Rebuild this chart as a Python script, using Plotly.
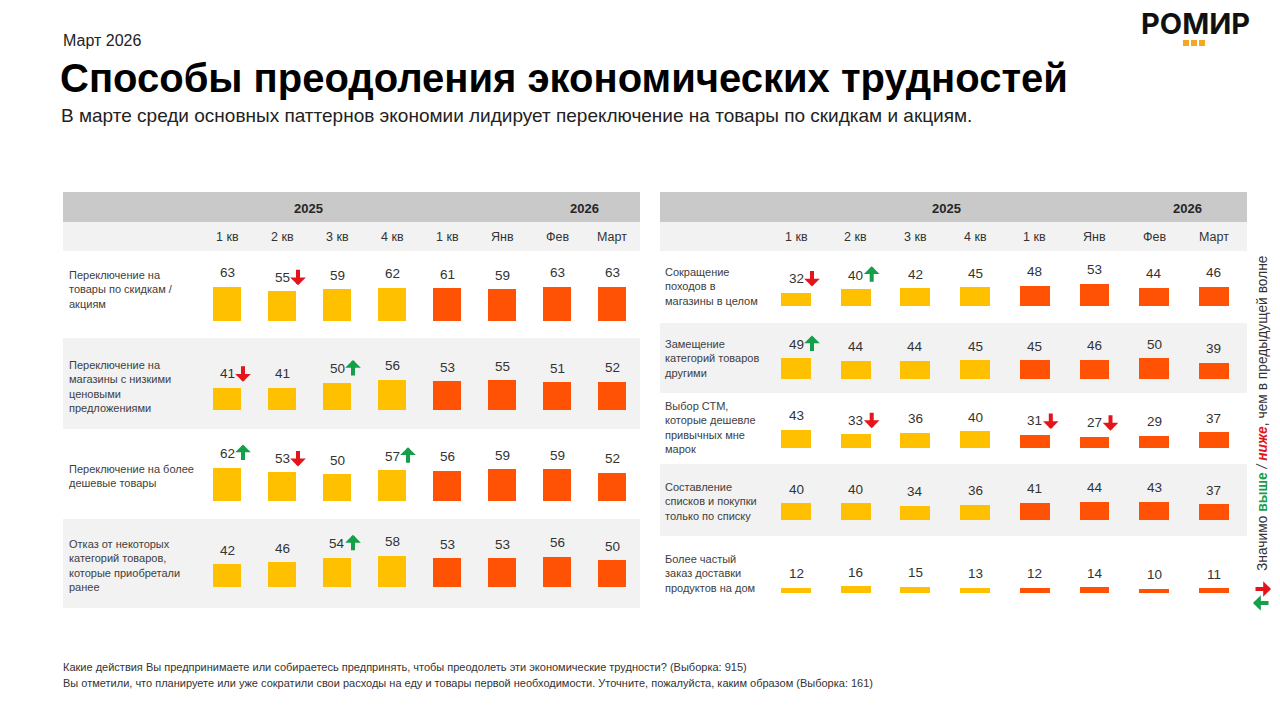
import plotly.graph_objects as go

W, H = 1280, 709

# ---------------- data ----------------
periods = ["1 кв", "2 кв", "3 кв", "4 кв", "1 кв", "Янв", "Фев", "Март"]
year_labels = ["2025", "2026"]

left_labels = [
    "Переключение на<br>товары по скидкам /<br>акциям",
    "Переключение на<br>магазины с низкими<br>ценовыми<br>предложениями",
    "Переключение на более<br>дешевые товары",
    "Отказ от некоторых<br>категорий товаров,<br>которые приобретали<br>ранее",
]
left_values = [
    [63, 55, 59, 62, 61, 59, 63, 63],
    [41, 41, 50, 56, 53, 55, 51, 52],
    [62, 53, 50, 57, 56, 59, 59, 52],
    [42, 46, 54, 58, 53, 53, 56, 50],
]
# 1 = significantly higher, -1 = significantly lower
left_flags = [
    [0, -1, 0, 0, 0, 0, 0, 0],
    [-1, 0, 1, 0, 0, 0, 0, 0],
    [1, -1, 0, 1, 0, 0, 0, 0],
    [0, 0, 1, 0, 0, 0, 0, 0],
]

right_labels = [
    "Сокращение<br>походов в<br>магазины в целом",
    "Замещение<br>категорий товаров<br>другими",
    "Выбор СТМ,<br>которые дешевле<br>привычных мне<br>марок",
    "Составление<br>списков и покупки<br>только по списку",
    "Более частый<br>заказ доставки<br>продуктов на дом",
]
right_values = [
    [32, 40, 42, 45, 48, 53, 44, 46],
    [49, 44, 44, 45, 45, 46, 50, 39],
    [43, 33, 36, 40, 31, 27, 29, 37],
    [40, 40, 34, 36, 41, 44, 43, 37],
    [12, 16, 15, 13, 12, 14, 10, 11],
]
right_flags = [
    [-1, 1, 0, 0, 0, 0, 0, 0],
    [1, 0, 0, 0, 0, 0, 0, 0],
    [0, -1, 0, 0, -1, -1, 0, 0],
    [0, 0, 0, 0, 0, 0, 0, 0],
    [0, 0, 0, 0, 0, 0, 0, 0],
]

footer_lines = [
    "Какие действия Вы предпринимаете или собираетесь предпринять, чтобы преодолеть эти экономические трудности? (Выборка: 915)",
    "Вы отметили, что планируете или уже сократили свои расходы на еду и товары первой необходимости. Уточните, пожалуйста, каким образом (Выборка: 161)",
]

# ---------------- styling / layout ----------------
YELLOW = "#FFC000"
ORANGE = "#FF5205"
RED = "#E3151B"
GREEN = "#14A04B"
HEAD_GRAY = "#C9C9C9"
LIGHT_GRAY = "#F2F2F2"
TXT = "#333333"
FONT = "Liberation Sans, Arial, sans-serif"

def px(x):
    return x / W

def py(y):
    return 1 - y / H

def paper_text(x, y, text, size, color=TXT, xanchor="left", family=FONT, **kw):
    d = dict(x=px(x), y=py(y), xref="paper", yref="paper", text=text, showarrow=False,
             xanchor=xanchor, yanchor="middle", font=dict(size=size, color=color, family=family))
    d.update(kw)
    return d

def arrow(**kw):
    d = dict(text="", showarrow=True, arrowhead=1, arrowsize=0.65, arrowwidth=4,
             standoff=0, startstandoff=0)
    d.update(kw)
    return d

panels = [
    dict(x0=63, x1=640, col0=227, step=55, scale=0.54, label_x=67,
         year_x=[308, 584],
         rows=[(251, 338, 321, 289), (338, 429, 410, 386), (429, 519, 501, 476),
               (519, 608, 587, 565)],
         labels=left_labels, values=left_values, flags=left_flags),
    dict(x0=660, x1=1247, col0=796, step=59.7, scale=0.42, label_x=663,
         year_x=[946, 1187],
         rows=[(251, 323, 306, 286), (323, 393, 379, 358), (393, 464, 448, 428),
               (464, 536, 520, 501), (536, 606, 593, 573)],
         labels=right_labels, values=right_values, flags=right_flags),
]

fig = go.Figure()
shapes = []
annotations = []
layout_axes = {}

k = 0
for p in panels:
    # header bands
    shapes.append(dict(type="rect", xref="paper", yref="paper", x0=px(p["x0"]), x1=px(p["x1"]),
                       y0=py(222), y1=py(192), fillcolor=HEAD_GRAY, line_width=0, layer="below"))
    shapes.append(dict(type="rect", xref="paper", yref="paper", x0=px(p["x0"]), x1=px(p["x1"]),
                       y0=py(251), y1=py(222), fillcolor=LIGHT_GRAY, line_width=0, layer="below"))
    for yx, ylab in zip(p["year_x"], year_labels):
        annotations.append(paper_text(yx, 208, "<b>%s</b>" % ylab, 13, color="#262626", xanchor="center"))
    xr = [-(p["col0"] - p["x0"]) / p["step"], (p["x1"] - p["col0"]) / p["step"]]
    first_k = None
    for r, (top, bot, bar_bot, lab_c) in enumerate(p["rows"]):
        k += 1
        if first_k is None:
            first_k = k
        xa = "x" if k == 1 else "x%d" % k
        ya = "y" if k == 1 else "y%d" % k
        if r % 2 == 1:
            shapes.append(dict(type="rect", xref="paper", yref="paper", x0=px(p["x0"]), x1=px(p["x1"]),
                               y0=py(bot), y1=py(top), fillcolor=LIGHT_GRAY, line_width=0, layer="below"))
        span = 70
        layout_axes["xaxis" if k == 1 else "xaxis%d" % k] = dict(
            domain=[px(p["x0"]), px(p["x1"])], range=xr, visible=False, fixedrange=True, anchor=ya)
        layout_axes["yaxis" if k == 1 else "yaxis%d" % k] = dict(
            domain=[py(bar_bot), py(bar_bot - span)], range=[0, span / p["scale"]], visible=False,
            fixedrange=True, anchor=xa)
        vals = p["values"][r]
        cols = [YELLOW if i < 4 else ORANGE for i in range(len(vals))]
        fig.add_trace(go.Bar(x=list(range(len(vals))), y=vals, marker=dict(color=cols, line_width=0),
                             width=0.5, xaxis=xa, yaxis=ya, showlegend=False, hoverinfo="skip"))
        for i, v in enumerate(vals):
            annotations.append(dict(x=i, y=v, xref=xa, yref=ya, text=str(v), showarrow=False,
                                    xanchor="center", yanchor="middle", yshift=14,
                                    font=dict(size=13.5, color=TXT, family=FONT)))
            f = p["flags"][r][i]
            if f != 0:
                annotations.append(arrow(x=i, y=v, xref=xa, yref=ya,
                                         xshift=16, yshift=(6 if f < 0 else 23),
                                         ax=0, ay=(-17 if f < 0 else 17),
                                         arrowcolor=(RED if f < 0 else GREEN)))
        annotations.append(paper_text(p["label_x"], lab_c, p["labels"][r], 11, color="#404040", align="left"))
    # period labels
    fxa = "x" if first_k == 1 else "x%d" % first_k
    for i, per in enumerate(periods):
        annotations.append(dict(x=i, y=py(237), xref=fxa, yref="paper", text=per, showarrow=False,
                                xanchor="center", yanchor="middle",
                                font=dict(size=12.5, color=TXT, family=FONT)))

# header texts
annotations += [
    paper_text(61, 40, "Март 2026", 16, color="#222222"),
    paper_text(58, 78, "<b>Способы преодоления экономических трудностей</b>", 40, color="#000000"),
    paper_text(59, 116, "В марте среди основных паттернов экономии лидирует переключение на товары по скидкам и акциям.",
               19, color="#222222"),
    paper_text(1195, 24, "<b>РОМИР</b>", 29, color="#111111", xanchor="center",
               family="Inter, Liberation Sans, sans-serif"),
]
annotations[-1]["font"]["weight"] = 900
for j in range(3):
    shapes.append(dict(type="rect", xref="paper", yref="paper", x0=px(1183 + 8 * j), x1=px(1189 + 8 * j),
                       y0=py(46), y1=py(40), fillcolor="#F5A623", line_width=0))

# footer
for j, line in enumerate(footer_lines):
    annotations.append(paper_text(61, 667 + 16 * j, line, 11))

# vertical legend
annotations.append(paper_text(
    1262, 413,
    "Значимо <b><span style='color:%s'>выше</span></b> <i>/</i> <b><i><span style='color:%s'>ниже</span></i></b>, чем в предыдущей волне" % (GREEN, RED),
    13.8, xanchor="center", textangle=-90))
annotations.append(arrow(x=px(1271), y=py(589), xref="paper", yref="paper", ax=-17, ay=0, arrowcolor=RED))
annotations.append(arrow(x=px(1253), y=py(603), xref="paper", yref="paper", ax=17, ay=0, arrowcolor=GREEN))

fig.update_layout(
    width=W, height=H, margin=dict(l=0, r=0, t=0, b=0),
    paper_bgcolor="white", plot_bgcolor="rgba(0,0,0,0)",
    shapes=shapes, annotations=annotations, bargap=0, showlegend=False,
    **layout_axes,
)

fig.write_html("out.html", config={"displayModeBar": False})
